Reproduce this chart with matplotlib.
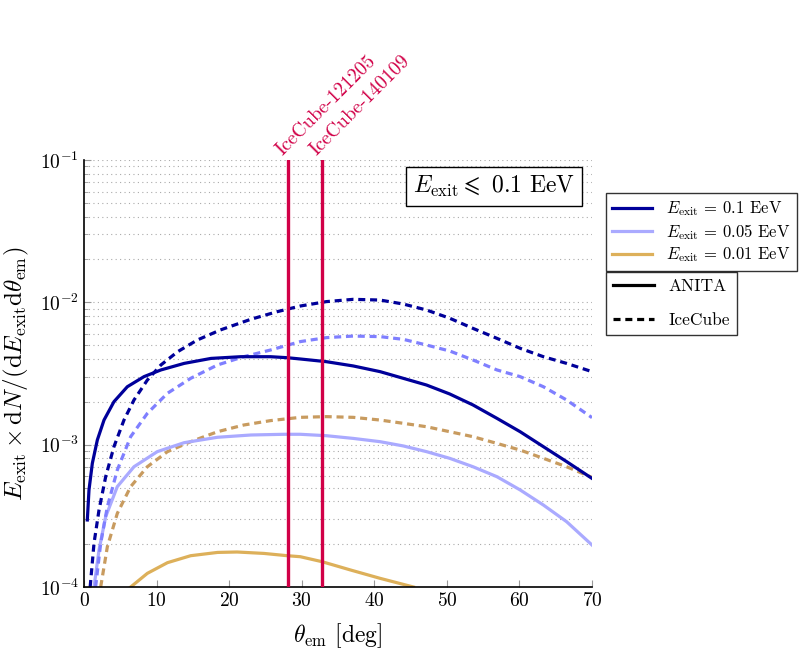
import matplotlib
matplotlib.use("Agg")
import matplotlib.pyplot as plt
import numpy as np
from matplotlib.lines import Line2D
from matplotlib.ticker import LogLocator, NullFormatter

plt.rcParams["mathtext.fontset"] = "cm"
plt.rcParams["font.family"] = "serif"
plt.rcParams["font.serif"] = ["cmr10", "DejaVu Serif"]
plt.rcParams["axes.unicode_minus"] = False
plt.rcParams["axes.formatter.use_mathtext"] = True

# colours
DARK = "#00009A"
LIGHT = "#AAAAFF"
LIGHT_D = "#7F7FFF"
GOLD = "#DDB05A"
GOLD_D = "#C89B5F"
RED = "#D10047"

# ---- data, values as log10 of the y quantity ----
anita_01_theta = [0.46, 0.69, 1.15, 1.84, 2.76, 4.13, 5.97, 8.27, 10.6, 13.8, 17.5, 21.6, 25.7,
                  28.0, 29.8, 33.4, 37.1, 40.8, 44.0, 47.2, 50.4, 53.6, 56.9, 60.1, 63.3,
                  66.5, 70.0]
anita_01_log = [-3.529, -3.318, -3.131, -2.967, -2.827, -2.698, -2.593, -2.522, -2.475, -2.429,
                -2.394, -2.382, -2.382, -2.389, -2.398, -2.417, -2.447, -2.487, -2.534, -2.581,
                -2.644, -2.721, -2.815, -2.909, -3.014, -3.119, -3.237]

icecube_01_theta = [0.85, 1.38, 2.07, 2.99, 4.13, 5.51, 6.89, 8.73, 10.6, 12.9, 15.6, 18.8,
                    23.0, 26.6, 29.8, 33.4, 37.1, 40.8, 44.0, 47.2, 50.4, 53.6, 56.9, 60.1,
                    63.3, 66.5, 70.0]
icecube_01_log = [-4.0, -3.693, -3.459, -3.225, -3.014, -2.827, -2.686, -2.546, -2.440, -2.347,
                  -2.265, -2.194, -2.119, -2.066, -2.026, -1.995, -1.979, -1.984, -2.012,
                  -2.054, -2.112, -2.183, -2.253, -2.323, -2.382, -2.429, -2.487]

anita_005_theta = [1.38, 2.07, 2.99, 4.59, 6.89, 10.1, 13.8, 18.4, 23.0, 27.6, 29.8, 33.4,
                   37.1, 40.8, 44.0, 47.2, 50.4, 53.6, 56.9, 60.1, 63.3, 66.5, 70.0]
anita_005_log = [-4.0, -3.740, -3.506, -3.295, -3.155, -3.049, -2.986, -2.948, -2.932, -2.927,
                 -2.927, -2.937, -2.956, -2.979, -3.009, -3.049, -3.096, -3.155, -3.225,
                 -3.318, -3.424, -3.541, -3.705]

icecube_005_theta = [1.6, 2.30, 3.22, 4.59, 6.43, 8.73, 11.5, 14.7, 18.4, 22.0, 25.7, 29.8,
                     33.4, 37.1, 40.8, 44.0, 47.2, 50.4, 53.6, 56.9, 60.1, 63.3, 66.5, 70.0]
icecube_005_log = [-4.0, -3.693, -3.436, -3.178, -2.944, -2.780, -2.639, -2.534, -2.440,
                   -2.382, -2.335, -2.276, -2.248, -2.237, -2.241, -2.260, -2.300, -2.342,
                   -2.405, -2.475, -2.522, -2.593, -2.686, -2.810]

anita_001_theta = [6.43, 8.73, 11.5, 14.7, 18.4, 21.1, 24.8, 28.0, 29.8, 32.8, 36.7, 40.8, 45.4]
anita_001_log = [-4.0, -3.904, -3.829, -3.780, -3.757, -3.754, -3.764, -3.780, -3.787, -3.822,
                 -3.880, -3.939, -4.0]

icecube_001_theta = [2.3, 3.22, 4.59, 6.43, 8.73, 11.5, 14.7, 18.4, 22.0, 25.7, 29.8, 33.4,
                     37.1, 40.8, 44.0, 47.2, 50.4, 53.6, 56.9, 60.1, 63.3, 66.5, 70.0]
icecube_001_log = [-4.0, -3.717, -3.483, -3.295, -3.155, -3.049, -2.979, -2.909, -2.862,
                   -2.831, -2.808, -2.803, -2.808, -2.827, -2.850, -2.874, -2.909, -2.944,
                   -2.991, -3.038, -3.096, -3.155, -3.230]

events = ["IceCube-121205", "IceCube-140109"]
event_theta = [28.1, 32.8]

energy_labels = [r"$E_\mathrm{exit}$ = 0.1 EeV", r"$E_\mathrm{exit}$ = 0.05 EeV",
                 r"$E_\mathrm{exit}$ = 0.01 EeV"]

# ---- figure ----
fig = plt.figure(figsize=(8.06, 6.49), dpi=100)
ax = fig.add_axes([0.1042, 0.0955, 0.6303, 0.658])

LW = 2.3
DASH = (0, (2.2, 1.5))

def curve(theta, logv, **kw):
    ax.plot(theta, np.power(10.0, logv), lw=LW, solid_joinstyle="round", **kw)

curve(anita_001_theta, anita_001_log, color=GOLD)
curve(icecube_001_theta, icecube_001_log, color=GOLD_D, ls=DASH)
curve(anita_005_theta, anita_005_log, color=LIGHT)
curve(icecube_005_theta, icecube_005_log, color=LIGHT_D, ls=DASH)
curve(anita_01_theta, anita_01_log, color=DARK)
curve(icecube_01_theta, icecube_01_log, color=DARK, ls=DASH)

for name, th in zip(events, event_theta):
    ax.axvline(th, color=RED, lw=2.4, zorder=5)
    ax.annotate(name, xy=(th, 1.0), xycoords=("data", "axes fraction"),
                xytext=(-2, 1), textcoords="offset points",
                rotation=45, rotation_mode="anchor", ha="left", va="bottom",
                color=RED, fontsize=14, annotation_clip=False)

ax.set_yscale("log")
ax.set_xlim(0, 70)
ax.set_ylim(1e-4, 1e-1)
ax.set_xticks(range(0, 71, 10))
ax.yaxis.set_minor_locator(LogLocator(base=10, subs=range(2, 10)))
ax.yaxis.set_minor_formatter(NullFormatter())
ax.grid(axis="y", which="both", ls=(0, (1, 3)), color="#aaaaaa", lw=0.8)
ax.set_axisbelow(True)

for side in ("top", "right"):
    ax.spines[side].set_visible(False)
for side in ("left", "bottom"):
    ax.spines[side].set_linewidth(1.2)

ax.tick_params(which="both", direction="in", color="#999999", labelsize=14)
ax.tick_params(which="major", length=5)
ax.tick_params(which="minor", length=3)
ax.tick_params(axis="x", which="minor", bottom=False)

ax.set_xlabel(r"$\theta_\mathrm{em}$ [deg]", fontsize=17, labelpad=8)
ax.set_ylabel(r"$E_\mathrm{exit}\times\mathrm{d}N/(\mathrm{d}E_\mathrm{exit}\mathrm{d}\theta_\mathrm{em})$",
              fontsize=18, labelpad=6)

ax.text(0.807, 0.937, r"$E_\mathrm{exit}\leqslant$ 0.1 EeV", transform=ax.transAxes,
        ha="center", va="center", fontsize=17,
        bbox=dict(boxstyle="square,pad=0.3", facecolor="white", edgecolor="black", lw=1.0))

# legends
h1 = [Line2D([], [], color=c, lw=LW) for c in (DARK, LIGHT, GOLD)]
leg1 = ax.legend(h1, energy_labels, loc="upper left", bbox_to_anchor=(1.027, 0.923),
                 fontsize=12, frameon=True, fancybox=False, edgecolor="black",
                 handlelength=2.4, borderaxespad=0, labelspacing=0.22)
leg1.get_frame().set_linewidth(1.0)
ax.add_artist(leg1)

h2 = [Line2D([], [], color="black", lw=LW), Line2D([], [], color="black", lw=LW, ls=DASH)]
leg2 = ax.legend(h2, ["ANITA", "IceCube"], loc="upper left", bbox_to_anchor=(1.027, 0.738),
                 fontsize=12.5, frameon=True, fancybox=False, edgecolor="black",
                 handlelength=2.4, borderaxespad=0, labelspacing=1.05)
leg2.get_frame().set_linewidth(1.0)

fig.savefig("out.png", dpi=100)
